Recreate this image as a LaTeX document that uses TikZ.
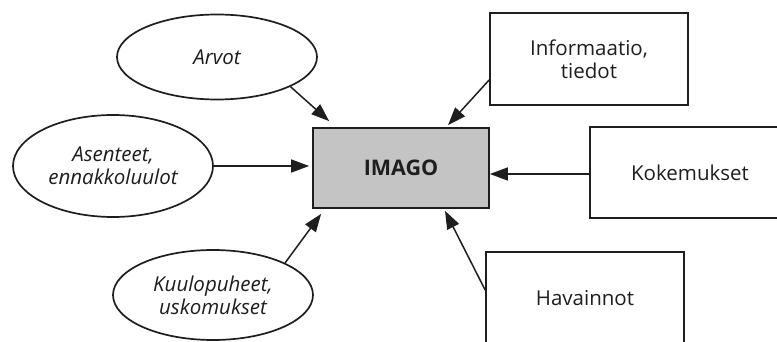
\documentclass[tikz,border=0pt]{standalone}
\usepackage{fontspec}
\setmainfont{Open Sans}
\usetikzlibrary{arrows.meta,calc,shapes.geometric}
\definecolor{inkc}{HTML}{1E1E1E}
\definecolor{imagofill}{HTML}{C4C4C4}
\begin{document}
\begin{tikzpicture}[x=1pt,y=-1pt,
  every node/.style={font=\fontsize{20.5}{23}\selectfont, text=inkc},
  oval/.style={ellipse, draw=inkc, line width=1.7pt, inner sep=0pt, align=center, font=\fontsize{20.5}{23}\selectfont\itshape},
  srcbox/.style={rectangle, draw=inkc, line width=1.7pt, inner sep=0pt, align=center},
  centerbox/.style={rectangle, draw=inkc, line width=1.7pt, fill=imagofill, inner sep=0pt, minimum width=176pt, minimum height=80pt, font=\fontsize{21.5}{23}\selectfont\bfseries},
  feed/.style={draw=inkc, line width=1.5pt, -{Triangle[length=18pt,width=13pt]}}
]
\useasboundingbox (0,0) rectangle (777,342);
\clip (0,0) rectangle (777,342);
\fill[white] (0,0) rectangle (777,342);

\node[centerbox] (imago) at (401,168) {IMAGO};

\node[oval, minimum width=200pt, minimum height=85pt] (arvot) at (217,57) {Arvot};
\node[oval, minimum width=200pt, minimum height=102pt] (asenteet) at (113,166) {Asenteet,\\ennakkoluulot};
\node[oval, minimum width=200pt, minimum height=90pt] (kuulo) at (213,295) {Kuulopuheet,\\uskomukset};

\node[srcbox, minimum width=198pt, minimum height=92pt] (info) at (589,59) {Informaatio,\\tiedot};
\node[srcbox, minimum width=200pt, minimum height=91pt] (koke) at (690,172.5) {Kokemukset};
\node[srcbox, minimum width=198pt, minimum height=92pt] (hav) at (585,298) {Havainnot};

\draw[feed] (arvot.-22) -- ($(imago.north west)+(17,-6)$);
\draw[feed] (asenteet.east) -- ($(asenteet.east -| imago.west)+(-3,0)$);
\draw[feed] (kuulo.24) -- ($(imago.south west)+(9,5)$);
\draw[feed] ($(info.west)+(0,21)$) -- ($(imago.north)+(47,-2)$);
\draw[feed] ($(koke.west)+(0,1.5)$) -- ($(koke.west -| imago.east)+(0,1.5)$);
\draw[feed] ($(hav.west)+(0,-8)$) -- ($(imago.south)+(44,2)$);
\end{tikzpicture}
\end{document}
